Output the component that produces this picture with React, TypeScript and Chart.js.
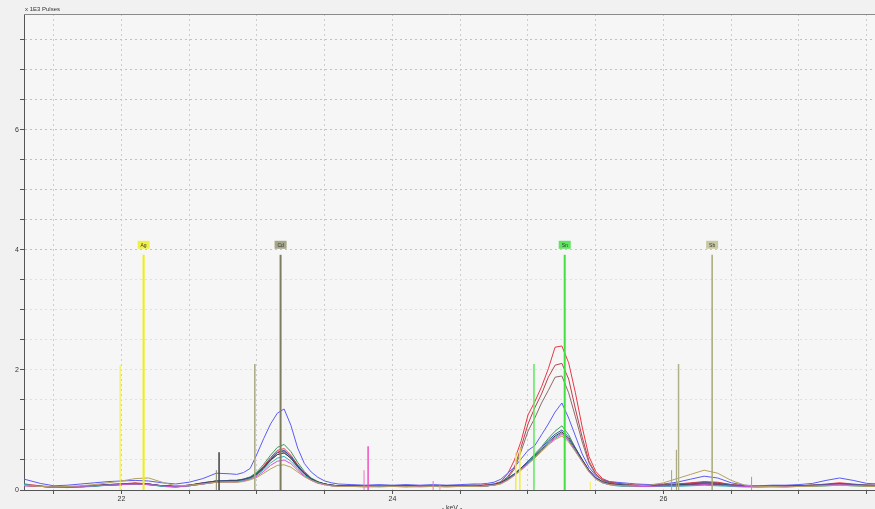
import { useEffect, useRef } from "react";
import { Chart, registerables } from "chart.js";

Chart.register(...registerables);

// Energy grid of the spectra (keV); denser sampling around the Cd and Sn peaks
const energies = [
  21.25, 21.4, 21.5, 21.6, 21.7, 21.8, 21.9, 22.0, 22.1, 22.2, 22.3, 22.4, 22.5, 22.6, 22.7, 22.8,
  22.85, 22.9, 22.95, 23.0, 23.05, 23.1, 23.15, 23.2, 23.25, 23.3, 23.35, 23.4, 23.45, 23.5, 23.55, 23.6,
  23.7, 23.8, 23.9, 24.0, 24.1, 24.2, 24.3, 24.4, 24.5, 24.6,
  24.65, 24.7, 24.75, 24.8, 24.85, 24.9, 24.95, 25.0, 25.05, 25.1, 25.15, 25.2, 25.25, 25.3, 25.35, 25.4, 25.45, 25.5, 25.55, 25.6, 25.65, 25.7, 25.75, 25.8,
  25.9, 26.0, 26.1, 26.2, 26.3, 26.4, 26.5, 26.6, 26.7, 26.8, 26.9, 27.0, 27.1, 27.2, 27.3, 27.4, 27.5, 27.6,
];

// Counts in thousands of pulses, one array per measured sample
const sampleRed = [
  0.11, 0.07, 0.05, 0.05, 0.06, 0.08, 0.09, 0.1, 0.12, 0.1, 0.07, 0.06, 0.08, 0.12, 0.15, 0.16,
  0.16, 0.18, 0.21, 0.28, 0.4, 0.54, 0.66, 0.69, 0.58, 0.42, 0.29, 0.19, 0.13, 0.1, 0.08, 0.07,
  0.07, 0.06, 0.07, 0.06, 0.07, 0.07, 0.06, 0.07, 0.07, 0.08,
  0.08, 0.09, 0.1, 0.14, 0.27, 0.5, 0.82, 1.25, 1.47, 1.72, 2.02, 2.38, 2.4, 2.12, 1.62, 1.05, 0.56, 0.31, 0.19, 0.14, 0.12, 0.1, 0.09, 0.08,
  0.08, 0.09, 0.1, 0.12, 0.14, 0.13, 0.09, 0.07, 0.06, 0.06, 0.07, 0.07, 0.08, 0.1, 0.12, 0.1, 0.08, 0.08,
];
const sampleDarkRed = [
  0.09, 0.06, 0.05, 0.05, 0.06, 0.07, 0.09, 0.1, 0.11, 0.1, 0.07, 0.06, 0.08, 0.11, 0.15, 0.15,
  0.15, 0.17, 0.2, 0.27, 0.38, 0.51, 0.62, 0.65, 0.55, 0.4, 0.28, 0.19, 0.13, 0.1, 0.08, 0.07,
  0.06, 0.07, 0.06, 0.07, 0.06, 0.06, 0.07, 0.06, 0.07, 0.07,
  0.07, 0.08, 0.1, 0.13, 0.22, 0.38, 0.72, 1.1, 1.37, 1.6, 1.88, 2.08, 2.11, 1.85, 1.35, 0.88, 0.48, 0.27, 0.17, 0.13, 0.11, 0.1, 0.08, 0.08,
  0.07, 0.09, 0.1, 0.11, 0.13, 0.12, 0.09, 0.07, 0.06, 0.06, 0.06, 0.07, 0.08, 0.09, 0.11, 0.09, 0.08, 0.07,
];
const sampleBrown = [
  0.08, 0.06, 0.05, 0.05, 0.05, 0.07, 0.08, 0.09, 0.1, 0.09, 0.07, 0.06, 0.07, 0.1, 0.14, 0.15,
  0.15, 0.17, 0.2, 0.26, 0.36, 0.49, 0.59, 0.62, 0.53, 0.38, 0.27, 0.18, 0.13, 0.1, 0.08, 0.07,
  0.07, 0.06, 0.06, 0.07, 0.06, 0.07, 0.06, 0.07, 0.06, 0.07,
  0.07, 0.08, 0.09, 0.12, 0.2, 0.35, 0.65, 0.98, 1.2, 1.45, 1.66, 1.88, 1.9, 1.62, 1.22, 0.8, 0.45, 0.26, 0.16, 0.12, 0.1, 0.09, 0.08, 0.07,
  0.07, 0.08, 0.09, 0.11, 0.12, 0.11, 0.08, 0.07, 0.06, 0.06, 0.07, 0.07, 0.08, 0.09, 0.1, 0.09, 0.08, 0.07,
];
const sampleBlue = [
  0.2, 0.11, 0.07, 0.08, 0.1, 0.12, 0.14, 0.15, 0.16, 0.15, 0.12, 0.1, 0.13, 0.19, 0.28, 0.27,
  0.26, 0.29, 0.36, 0.6, 0.86, 1.1, 1.28, 1.35, 1.08, 0.7, 0.44, 0.3, 0.21, 0.15, 0.12, 0.1,
  0.09, 0.08, 0.09, 0.08, 0.09, 0.08, 0.09, 0.08, 0.09, 0.1,
  0.1, 0.11, 0.13, 0.18, 0.28, 0.38, 0.52, 0.66, 0.74, 0.92, 1.1, 1.3, 1.45, 1.2, 0.9, 0.6, 0.38, 0.24, 0.17, 0.14, 0.13, 0.12, 0.11, 0.1,
  0.09, 0.1, 0.13, 0.18, 0.23, 0.2, 0.12, 0.08, 0.07, 0.08, 0.08, 0.09, 0.11, 0.16, 0.2, 0.16, 0.11, 0.1,
];
const sampleGreen = [
  0.09, 0.06, 0.05, 0.04, 0.05, 0.07, 0.08, 0.1, 0.11, 0.1, 0.06, 0.05, 0.07, 0.11, 0.15, 0.16,
  0.16, 0.18, 0.22, 0.3, 0.43, 0.58, 0.71, 0.76, 0.64, 0.46, 0.31, 0.2, 0.14, 0.1, 0.08, 0.07,
  0.06, 0.06, 0.07, 0.06, 0.06, 0.07, 0.06, 0.06, 0.07, 0.07,
  0.06, 0.07, 0.09, 0.13, 0.2, 0.27, 0.37, 0.48, 0.6, 0.72, 0.86, 0.98, 1.07, 0.92, 0.7, 0.5, 0.32, 0.2, 0.14, 0.1, 0.08, 0.08, 0.07, 0.07,
  0.06, 0.07, 0.08, 0.09, 0.1, 0.09, 0.07, 0.06, 0.05, 0.06, 0.06, 0.06, 0.07, 0.08, 0.09, 0.08, 0.07, 0.07,
];
const sampleGraphite = [
  0.08, 0.06, 0.05, 0.05, 0.06, 0.07, 0.08, 0.09, 0.1, 0.09, 0.07, 0.06, 0.08, 0.11, 0.14, 0.15,
  0.15, 0.17, 0.2, 0.26, 0.37, 0.5, 0.59, 0.62, 0.53, 0.39, 0.27, 0.18, 0.13, 0.1, 0.08, 0.07,
  0.07, 0.06, 0.07, 0.06, 0.07, 0.06, 0.07, 0.07, 0.06, 0.07,
  0.07, 0.07, 0.09, 0.12, 0.18, 0.26, 0.36, 0.46, 0.56, 0.67, 0.8, 0.9, 0.97, 0.85, 0.68, 0.5, 0.33, 0.2, 0.13, 0.1, 0.09, 0.08, 0.07, 0.07,
  0.07, 0.07, 0.08, 0.09, 0.1, 0.09, 0.07, 0.06, 0.06, 0.06, 0.06, 0.07, 0.07, 0.08, 0.09, 0.08, 0.07, 0.07,
];
const sampleTeal = [
  0.1, 0.06, 0.05, 0.05, 0.05, 0.06, 0.08, 0.09, 0.1, 0.09, 0.06, 0.05, 0.07, 0.1, 0.13, 0.14,
  0.14, 0.16, 0.19, 0.25, 0.34, 0.45, 0.53, 0.56, 0.48, 0.36, 0.25, 0.17, 0.12, 0.09, 0.07, 0.06,
  0.06, 0.05, 0.06, 0.06, 0.05, 0.06, 0.06, 0.05, 0.06, 0.06,
  0.06, 0.07, 0.08, 0.11, 0.17, 0.25, 0.35, 0.45, 0.55, 0.66, 0.78, 0.88, 0.95, 0.83, 0.66, 0.48, 0.31, 0.19, 0.12, 0.09, 0.07, 0.06, 0.06, 0.06,
  0.06, 0.06, 0.06, 0.07, 0.08, 0.07, 0.06, 0.05, 0.05, 0.05, 0.05, 0.06, 0.06, 0.07, 0.08, 0.07, 0.06, 0.06,
];
const sampleMagenta = [
  0.07, 0.06, 0.05, 0.05, 0.06, 0.07, 0.08, 0.09, 0.1, 0.09, 0.07, 0.05, 0.07, 0.1, 0.13, 0.13,
  0.13, 0.15, 0.18, 0.23, 0.31, 0.41, 0.48, 0.5, 0.44, 0.33, 0.23, 0.16, 0.11, 0.09, 0.07, 0.06,
  0.06, 0.06, 0.07, 0.06, 0.06, 0.06, 0.07, 0.06, 0.06, 0.07,
  0.06, 0.07, 0.08, 0.11, 0.17, 0.25, 0.34, 0.44, 0.54, 0.65, 0.77, 0.86, 0.93, 0.82, 0.65, 0.48, 0.31, 0.19, 0.12, 0.09, 0.08, 0.07, 0.07, 0.06,
  0.06, 0.07, 0.07, 0.08, 0.09, 0.08, 0.07, 0.06, 0.06, 0.06, 0.06, 0.06, 0.07, 0.08, 0.09, 0.08, 0.07, 0.07,
];
const sampleKhaki = [
  0.08, 0.06, 0.05, 0.06, 0.07, 0.09, 0.12, 0.15, 0.19, 0.2, 0.13, 0.07, 0.08, 0.1, 0.13, 0.13,
  0.13, 0.14, 0.17, 0.21, 0.28, 0.35, 0.41, 0.42, 0.38, 0.3, 0.22, 0.16, 0.12, 0.09, 0.07, 0.06,
  0.06, 0.06, 0.05, 0.06, 0.06, 0.05, 0.06, 0.06, 0.06, 0.06,
  0.06, 0.07, 0.08, 0.1, 0.16, 0.24, 0.33, 0.43, 0.53, 0.64, 0.75, 0.84, 0.9, 0.8, 0.64, 0.47, 0.3, 0.18, 0.12, 0.09, 0.08, 0.07, 0.07, 0.07,
  0.08, 0.12, 0.19, 0.26, 0.33, 0.28, 0.16, 0.08, 0.06, 0.06, 0.05, 0.06, 0.06, 0.07, 0.08, 0.07, 0.06, 0.06,
];
const sampleNavy = [
  0.09, 0.06, 0.05, 0.05, 0.06, 0.07, 0.09, 0.1, 0.11, 0.1, 0.07, 0.06, 0.08, 0.12, 0.15, 0.16,
  0.16, 0.18, 0.21, 0.28, 0.39, 0.52, 0.63, 0.66, 0.56, 0.41, 0.28, 0.19, 0.13, 0.1, 0.08, 0.07,
  0.07, 0.07, 0.06, 0.07, 0.07, 0.06, 0.07, 0.07, 0.07, 0.08,
  0.07, 0.08, 0.09, 0.12, 0.19, 0.27, 0.37, 0.48, 0.58, 0.7, 0.83, 0.93, 1.0, 0.88, 0.7, 0.51, 0.33, 0.21, 0.14, 0.11, 0.09, 0.08, 0.08, 0.07,
  0.07, 0.08, 0.09, 0.1, 0.12, 0.11, 0.08, 0.07, 0.06, 0.07, 0.07, 0.07, 0.08, 0.09, 0.11, 0.09, 0.08, 0.08,
];

// Drawing order (first is drawn underneath) and trace colours
const spectra = [
  { values: sampleKhaki, color: "#b3a35e" },
  { values: sampleMagenta, color: "#d54fd5" },
  { values: sampleTeal, color: "#2fb3b6" },
  { values: sampleGraphite, color: "#3c3c48" },
  { values: sampleNavy, color: "#3a56a8" },
  { values: sampleGreen, color: "#3a9a5c" },
  { values: sampleBrown, color: "#8c6a6a" },
  { values: sampleDarkRed, color: "#b4424e" },
  { values: sampleBlue, color: "#5c5cf6" },
  { values: sampleRed, color: "#ec3644" },
];

// Emission line markers: energy (keV) and height (thousands of pulses)
const lineEnergies = [21.99, 22.163, 22.70, 22.72, 22.984, 23.174, 23.79, 23.82, 24.30, 24.35, 24.91, 24.94, 25.044, 25.271, 25.46, 26.06, 26.095, 26.111, 26.359, 26.65];
const lineHeights = [2.08, 3.92, 0.33, 0.63, 2.1, 3.92, 0.33, 0.73, 0.15, 0.08, 0.62, 0.7, 2.1, 3.92, 0.14, 0.33, 0.67, 2.1, 3.92, 0.22];
const lineColors = ["#f2f230", "#f0f000", "#8a8a6a", "#404040", "#a8a884", "#7e7e5e", "#f070c8", "#f050c0", "#f070c8", "#f090d0", "#eeee40", "#eeee40", "#5ee85e", "#40e040", "#eeee60", "#a0a080", "#a0a078", "#b0b088", "#a8a878", "#a0a090"];
const lineWidths = [1, 2, 1, 1.5, 1.5, 2, 1, 1.5, 1, 1, 1.5, 1.5, 1.5, 2, 1, 1, 1, 1.5, 1.5, 1];

// Element tags placed on top of the Kα1 lines
const elementNames = ["Ag", "Cd", "Sn", "Sb"];
const elementEnergies = [22.163, 23.174, 25.271, 26.359];
const elementHeights = [3.92, 3.92, 3.92, 3.92];
const elementColors = ["#eef048", "#a6a68a", "#5ee45e", "#c8c8a2"];

const yTickLabels = [0, 2, 4, 6];
const xTickLabels = [22, 24, 26];

const FONT = "'Liberation Sans', Arial, sans-serif";

const backgroundPlugin = {
  id: "panelBackground",
  beforeDraw(chart: any) {
    const { ctx, chartArea, width, height } = chart;
    ctx.save();
    ctx.fillStyle = "#f1f1f1";
    ctx.fillRect(0, 0, width, height);
    ctx.fillStyle = "#f6f6f6";
    ctx.fillRect(chartArea.left, chartArea.top, chartArea.right - chartArea.left, chartArea.bottom - chartArea.top);
    ctx.restore();
  },
};

const markerPlugin = {
  id: "emissionLines",
  afterDatasetsDraw(chart: any) {
    const { ctx, chartArea, scales } = chart;
    const x = scales.x;
    const y = scales.y;
    ctx.save();
    ctx.beginPath();
    ctx.rect(chartArea.left, chartArea.top, chartArea.right - chartArea.left, chartArea.bottom - chartArea.top);
    ctx.clip();
    lineEnergies.forEach((e, i) => {
      const px = x.getPixelForValue(e);
      ctx.strokeStyle = lineColors[i];
      ctx.lineWidth = lineWidths[i];
      ctx.beginPath();
      ctx.moveTo(px, y.getPixelForValue(0));
      ctx.lineTo(px, y.getPixelForValue(lineHeights[i]));
      ctx.stroke();
    });
    ctx.font = `5px ${FONT}`;
    ctx.textAlign = "center";
    ctx.textBaseline = "middle";
    elementNames.forEach((name, i) => {
      const px = x.getPixelForValue(elementEnergies[i]);
      const top = y.getPixelForValue(elementHeights[i]);
      const w = 12;
      const h = 8;
      ctx.fillStyle = elementColors[i];
      ctx.fillRect(px - w / 2, top - 6 - h, w, h);
      ctx.fillStyle = "#333";
      ctx.fillText(name, px, top - 6 - h / 2 + 0.5);
    });
    ctx.restore();
  },
  afterDraw(chart: any) {
    const { ctx, chartArea } = chart;
    ctx.save();
    ctx.strokeStyle = "#8a8a8a";
    ctx.lineWidth = 1;
    ctx.beginPath();
    ctx.moveTo(chartArea.left, chartArea.top + 0.5);
    ctx.lineTo(chartArea.right, chartArea.top + 0.5);
    ctx.stroke();
    ctx.fillStyle = "#333";
    ctx.font = `6px ${FONT}`;
    ctx.textAlign = "left";
    ctx.textBaseline = "alphabetic";
    ctx.fillText("x 1E3 Pulses", chartArea.left + 1, chartArea.top - 3);
    ctx.textAlign = "center";
    ctx.textBaseline = "top";
    ctx.font = `7px ${FONT}`;
    ctx.fillText("- keV -", 452, 505);
    ctx.restore();
  },
};

export default function App() {
  const canvasRef = useRef<HTMLCanvasElement | null>(null);

  useEffect(() => {
    document.body.style.margin = "0";
    document.body.style.background = "#f1f1f1";
    const canvas = canvasRef.current;
    if (!canvas) return;

    const datasets = spectra.map((s) => ({
      data: energies.map((e, i) => ({ x: e, y: s.values[i] })),
      borderColor: s.color,
      borderWidth: 1,
      pointRadius: 0,
      tension: 0,
      fill: false,
    }));

    const chart = new Chart(canvas, {
      type: "line",
      data: { datasets },
      plugins: [backgroundPlugin, markerPlugin],
      options: {
        animation: false,
        responsive: true,
        maintainAspectRatio: false,
        layout: { padding: { top: 14, right: 0, left: 0, bottom: 0 } },
        plugins: { legend: { display: false }, tooltip: { enabled: false } },
        scales: {
          x: {
            type: "linear",
            min: 21.2804,
            max: 27.561,
            afterFit: (scale: any) => {
              scale.height = 19;
            },
            ticks: {
              stepSize: 0.5,
              includeBounds: false,
              autoSkip: false,
              maxRotation: 0,
              padding: 1,
              color: "#333",
              font: { family: FONT, size: 7 },
              callback: (v: any) => (xTickLabels.includes(Number(v)) ? String(v) : ""),
            },
            grid: { color: "#cdcdcd", tickColor: "#555", tickLength: 4, lineWidth: 1 },
            border: { color: "#555", dash: [2, 3] },
          },
          y: {
            type: "linear",
            min: 0,
            max: 7.933,
            afterFit: (scale: any) => {
              scale.width = 24;
            },
            ticks: {
              stepSize: 0.5,
              includeBounds: false,
              autoSkip: false,
              padding: 1,
              color: "#333",
              font: { family: FONT, size: 7 },
              callback: (v: any) => (yTickLabels.includes(Number(v)) ? String(v) : ""),
            },
            grid: {
              color: (c: any) => (c.tick && c.tick.value < 4 ? "#e0e0e0" : "#c2c2c2"),
              tickColor: "#555",
              tickLength: 4,
              lineWidth: 1,
            },
            border: { color: "#555", dash: [2, 3] },
          },
        },
      },
    });

    return () => chart.destroy();
  }, []);

  return (
    <div style={{ width: 875, height: 509, position: "relative" }}>
      <canvas ref={canvasRef} />
    </div>
  );
}
